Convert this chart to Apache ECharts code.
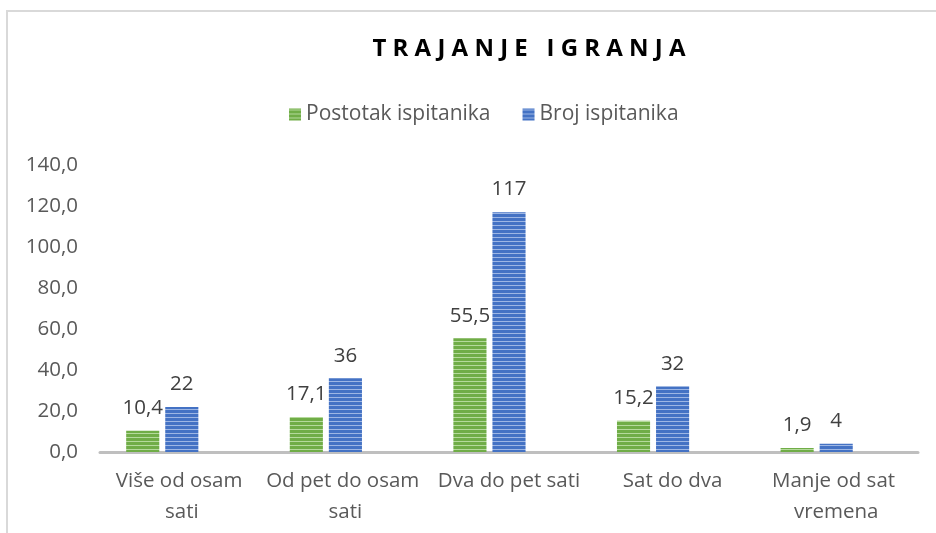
<!DOCTYPE html>
<html>
<head>
<meta charset="utf-8">
<script src="https://cdn.jsdelivr.net/npm/echarts@6/dist/echarts.min.js"></script>
<style>
  html, body { margin: 0; padding: 0; background: #fff; }
  #main { width: 936px; height: 533px; }
</style>
</head>
<body>
<div id="main"></div>
<script>
const categories = ['Više od osam sati', 'Od pet do osam sati', 'Dva do pet sati', 'Sat do dva', 'Manje od sat vremena']
const postotak = [10.4, 17.1, 55.5, 15.2, 1.9]
const broj = [22, 36, 117, 32, 4]
// the source has a third, empty series that keeps a slot free right of the blue bars
const prazno = ['-', '-', '-', '-', '-']
const seriesNames = ['Postotak ispitanika', 'Broj ispitanika']

// striped fill like the excel bars
function stripes(base, light) {
  const c = document.createElement('canvas')
  c.width = 4
  c.height = 4
  const ctx = c.getContext('2d')
  ctx.fillStyle = base
  ctx.fillRect(0, 0, 4, 4)
  ctx.fillStyle = light
  ctx.fillRect(0, 1, 4, 1)
  return { image: c, repeat: 'repeat' }
}
const green = stripes('#70AD47', '#B5DA9C')
const blue = stripes('#4472C4', '#9DB6E4')

const font = '"Open Sans", Lato, sans-serif'
const comma = v => v.toFixed(1).replace('.', ',')

const chart = echarts.init(document.getElementById('main'))
chart.setOption({
  animation: false,
  graphic: [{
    type: 'rect',
    shape: { x: 7, y: 11, width: 1000, height: 600 },
    style: { fill: 'none', stroke: '#D9D9D9', lineWidth: 2 }
  }],
  title: {
    text: 'T R A J A N J E   I G R A N J A',
    left: 524,
    textAlign: 'center',
    top: 32,
    textStyle: { fontFamily: font, fontSize: 24, fontWeight: 'bold', color: '#000' }
  },
  legend: {
    data: seriesNames,
    left: 284,
    top: 99,
    itemWidth: 12,
    itemHeight: 12,
    itemGap: 32,
    icon: 'rect',
    textStyle: { fontFamily: font, fontSize: 21, color: '#595959' }
  },
  grid: { left: 100, right: 18, top: 165, bottom: 81 },
  xAxis: {
    type: 'category',
    data: categories,
    axisLine: { lineStyle: { color: '#BFBFBF', width: 3 } },
    axisTick: { show: false },
    axisLabel: {
      fontFamily: font, fontSize: 20.5, color: '#595959',
      width: 162, overflow: 'break', lineHeight: 31, margin: 14,
      interval: 0
    }
  },
  yAxis: {
    type: 'value',
    min: 0,
    max: 140,
    interval: 20,
    splitLine: { show: false },
    axisLine: { show: false },
    axisLabel: {
      fontFamily: font, fontSize: 20.5, color: '#595959', margin: 22,
      formatter: v => comma(v)
    }
  },
  series: [
    {
      name: seriesNames[0],
      type: 'bar',
      data: postotak,
      barGap: '18%',
      barCategoryGap: '32%',
      itemStyle: { color: green },
      label: {
        show: true, position: 'top', distance: 12,
        fontFamily: font, fontSize: 20.5, color: '#404040',
        formatter: p => comma(p.value)
      }
    },
    {
      name: seriesNames[1],
      type: 'bar',
      data: broj,
      itemStyle: { color: blue },
      label: {
        show: true, position: 'top', distance: 12,
        fontFamily: font, fontSize: 20.5, color: '#404040'
      }
    },
    {
      name: 'prazno',
      type: 'bar',
      data: prazno
    }
  ]
})
</script>
</body>
</html>
